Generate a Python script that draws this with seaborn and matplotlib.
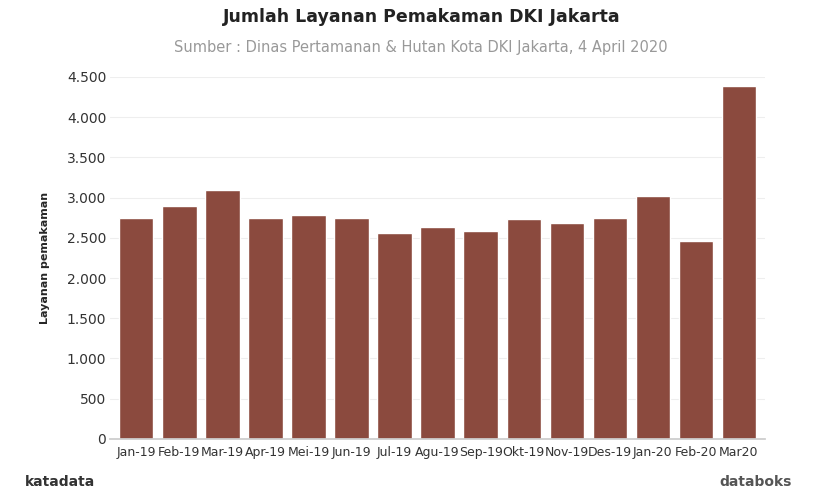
import matplotlib
matplotlib.use("Agg")
import matplotlib.pyplot as plt
import seaborn as sns
import pandas as pd
from matplotlib.ticker import FuncFormatter

months = ["Jan-19", "Feb-19", "Mar-19", "Apr-19", "Mei-19", "Jun-19", "Jul-19", "Agu-19",
          "Sep-19", "Okt-19", "Nov-19", "Des-19", "Jan-20", "Feb-20", "Mar20"]
layanan = [2740, 2900, 3100, 2740, 2780, 2750, 2560, 2630, 2590, 2730, 2690, 2750, 3020, 2460, 4390]

df = pd.DataFrame({"bulan": months, "layanan": layanan})

sns.set_theme(style="white")
fig = plt.figure(figsize=(8.18, 4.96), dpi=100)
ax = fig.add_axes([0.135, 0.115, 0.8, 0.73])
sns.barplot(data=df, x="bulan", y="layanan", color="#8b4a3e", saturation=1, width=0.8, ax=ax)

ax.set_ylim(0, 4500)
ax.set_yticks(range(0, 4501, 500))
ax.yaxis.set_major_formatter(FuncFormatter(lambda v, p: f"{int(v):,}".replace(",", ".")))
ax.grid(axis="y", color="#eeeeee", linewidth=0.8)
ax.set_axisbelow(True)
for s in ["top", "right", "left"]:
    ax.spines[s].set_visible(False)
ax.spines["bottom"].set_color("#cccccc")
ax.tick_params(axis="y", labelsize=10, colors="#333333", length=0, pad=3)
ax.tick_params(axis="x", labelsize=9, colors="#333333", length=0, pad=5)
ax.set_xlabel("")
ax.set_ylabel("Layanan pemakaman", fontsize=8, fontweight="bold", labelpad=12)
ax.set_xlim(-0.6, 14.6)

fig.text(0.515, 0.955, "Jumlah Layanan Pemakaman DKI Jakarta", ha="center", fontsize=12.5,
         fontweight="bold", color="#222222")
fig.text(0.515, 0.895, "Sumber : Dinas Pertamanan & Hutan Kota DKI Jakarta, 4 April 2020",
         ha="center", fontsize=10.5, color="#999999")
fig.text(0.03, 0.02, "katadata", fontsize=10, fontweight="bold", color="#333333")
fig.text(0.88, 0.02, "databoks", fontsize=10, fontweight="bold", color="#555555")

fig.savefig("out.png", dpi=100)
